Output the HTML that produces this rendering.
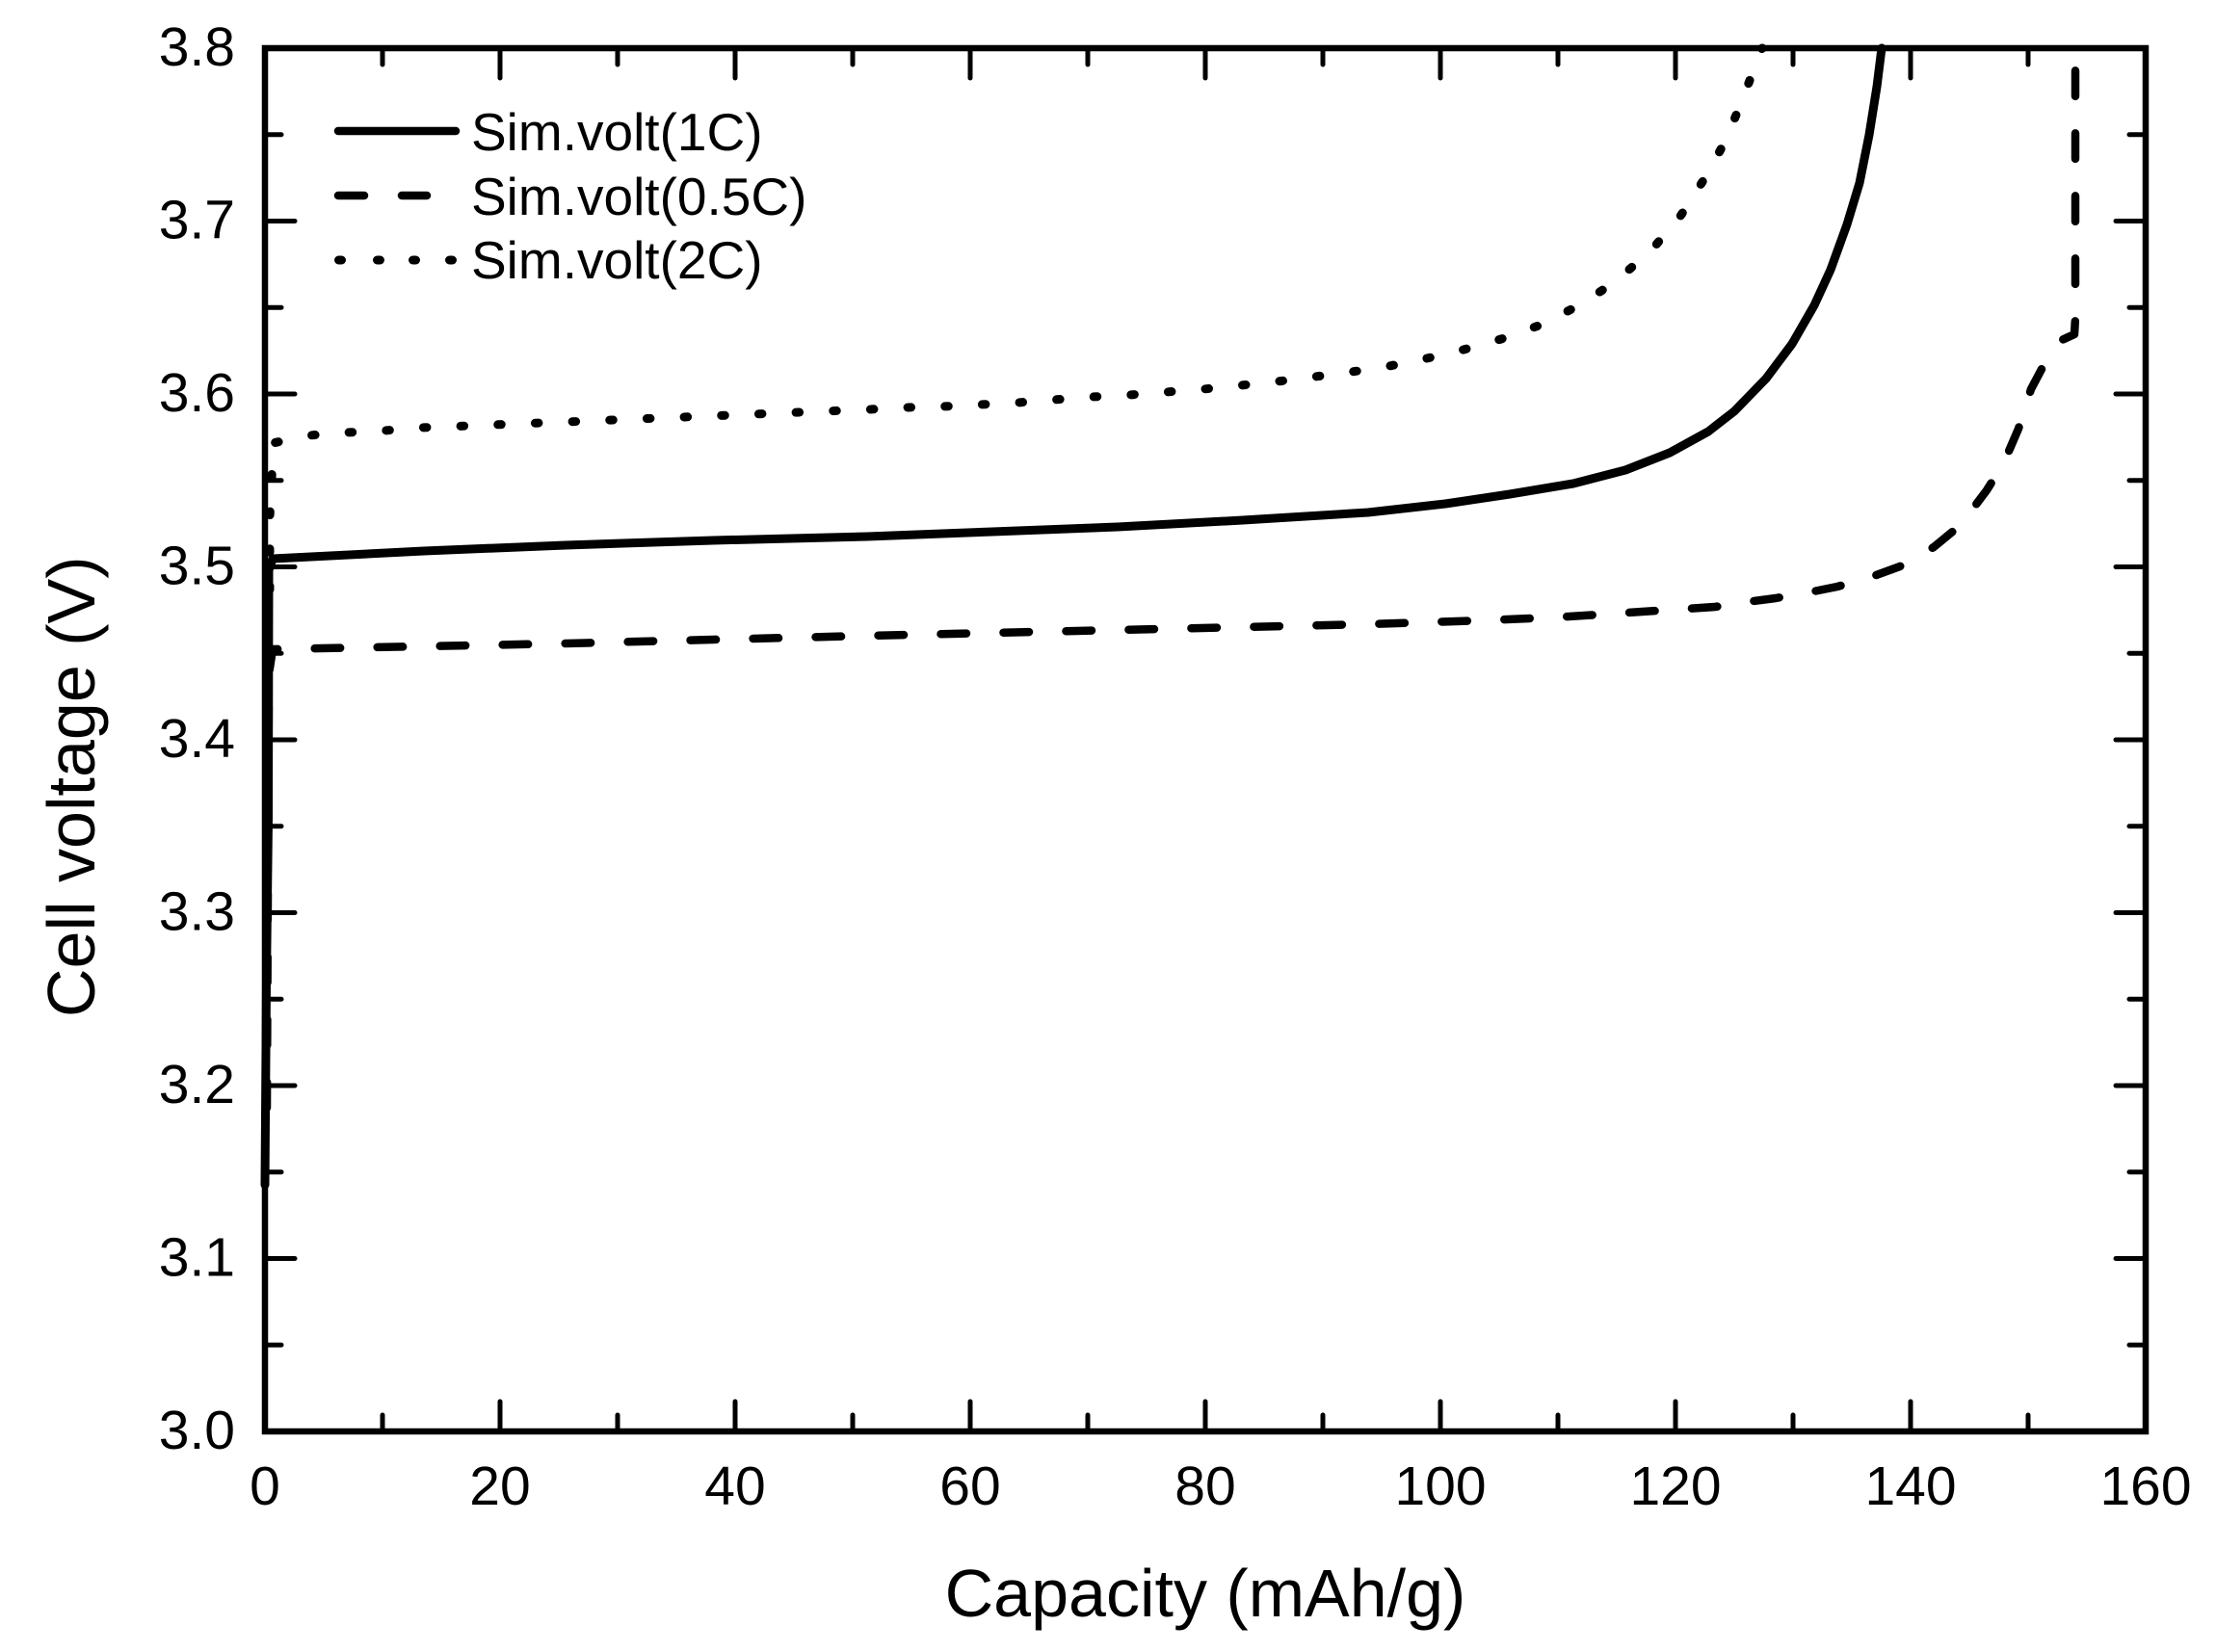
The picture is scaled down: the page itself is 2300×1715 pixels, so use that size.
<!DOCTYPE html>
<html>
<head>
<meta charset="utf-8">
<style>
html,body{margin:0;padding:0;background:#fff;}
svg{display:block;}
text{font-family:"Liberation Sans",Arial,sans-serif;fill:#000;}
</style>
</head>
<body>
<svg width="2300" height="1715" viewBox="0 0 2300 1715" xmlns="http://www.w3.org/2000/svg">
<rect x="0" y="0" width="2300" height="1715" fill="#fff"/>

<!-- curves -->
<g fill="none" stroke="#000" stroke-linejoin="round">
  <!-- 1C solid -->
  <polyline stroke-width="9" stroke-linecap="round" points="275,1230 276.5,1020 278.5,850 279,592 283,580 440,572 587,566 740,561 900,557 1030,552 1160,547 1290,540 1420,532 1500,523 1567,513 1633,502 1687,488 1733,470 1773,448 1800,427 1833,393 1860,357 1883,317 1900,280 1917,233 1930,190 1940,140 1948,90 1953,50"/>
  <!-- 0.5C dashed -->
  <polyline stroke-width="8.5" stroke-linecap="round" stroke-dasharray="26.5 38.5" points="277,1150 279,700 283,674 440,671 587,668 740,664 900,660 1030,657 1160,654 1290,651 1420,648 1540,644 1612,641 1660,638 1720,634 1780,630 1812,625 1843,621 1877,615 1907,609 1942,599 1972,588 2007,568 2035,545 2062,509 2080,480 2095,445 2108,404 2127,368 2140,353 2153,347 2154,330 2154,50"/>
  <!-- 2C dotted -->
  <polyline stroke-width="9" stroke-linecap="round" stroke-dasharray="3.5 35.2" points="280,612 280,537 282,498 283,460 321,452 360,449 399,447 436,444 587,438 733,432 903,425 940,423 979,422 1017,420 1056,418 1094,415 1133,412 1172,410 1210,407 1249,404 1288,400 1326,396 1365,391 1403,386 1442,380 1481,372 1519,363 1558,352 1597,338 1635,319 1673,295 1713,261 1745,223 1770,184 1791,146 1807,107 1822,68 1829,50"/>
</g>

<!-- axes frame -->
<rect x="275" y="50" width="1952" height="1436" fill="none" stroke="#000" stroke-width="6.5" stroke-linejoin="miter"/>

<!-- ticks -->
<g stroke="#000" stroke-width="5" stroke-linecap="round">
  <line x1="519" y1="1486" x2="519" y2="1455"/><line x1="763" y1="1486" x2="763" y2="1455"/>
  <line x1="1007" y1="1486" x2="1007" y2="1455"/><line x1="1251" y1="1486" x2="1251" y2="1455"/>
  <line x1="1495" y1="1486" x2="1495" y2="1455"/><line x1="1739" y1="1486" x2="1739" y2="1455"/>
  <line x1="1983" y1="1486" x2="1983" y2="1455"/>
  <line x1="397" y1="1486" x2="397" y2="1469"/><line x1="641" y1="1486" x2="641" y2="1469"/>
  <line x1="885" y1="1486" x2="885" y2="1469"/><line x1="1129" y1="1486" x2="1129" y2="1469"/>
  <line x1="1373" y1="1486" x2="1373" y2="1469"/><line x1="1617" y1="1486" x2="1617" y2="1469"/>
  <line x1="1861" y1="1486" x2="1861" y2="1469"/><line x1="2105" y1="1486" x2="2105" y2="1469"/>
  <line x1="519" y1="50" x2="519" y2="81"/><line x1="763" y1="50" x2="763" y2="81"/>
  <line x1="1007" y1="50" x2="1007" y2="81"/><line x1="1251" y1="50" x2="1251" y2="81"/>
  <line x1="1495" y1="50" x2="1495" y2="81"/><line x1="1739" y1="50" x2="1739" y2="81"/>
  <line x1="1983" y1="50" x2="1983" y2="81"/>
  <line x1="397" y1="50" x2="397" y2="67"/><line x1="641" y1="50" x2="641" y2="67"/>
  <line x1="885" y1="50" x2="885" y2="67"/><line x1="1129" y1="50" x2="1129" y2="67"/>
  <line x1="1373" y1="50" x2="1373" y2="67"/><line x1="1617" y1="50" x2="1617" y2="67"/>
  <line x1="1861" y1="50" x2="1861" y2="67"/><line x1="2105" y1="50" x2="2105" y2="67"/>
  <line x1="275" y1="1306.5" x2="306" y2="1306.5"/><line x1="275" y1="1127" x2="306" y2="1127"/>
  <line x1="275" y1="947.5" x2="306" y2="947.5"/><line x1="275" y1="768" x2="306" y2="768"/>
  <line x1="275" y1="588.5" x2="306" y2="588.5"/><line x1="275" y1="409" x2="306" y2="409"/>
  <line x1="275" y1="229.5" x2="306" y2="229.5"/>
  <line x1="275" y1="1396.25" x2="292" y2="1396.25"/><line x1="275" y1="1216.75" x2="292" y2="1216.75"/>
  <line x1="275" y1="1037.25" x2="292" y2="1037.25"/><line x1="275" y1="857.75" x2="292" y2="857.75"/>
  <line x1="275" y1="678.25" x2="292" y2="678.25"/><line x1="275" y1="498.75" x2="292" y2="498.75"/>
  <line x1="275" y1="319.25" x2="292" y2="319.25"/><line x1="275" y1="139.75" x2="292" y2="139.75"/>
  <line x1="2227" y1="1306.5" x2="2196" y2="1306.5"/><line x1="2227" y1="1127" x2="2196" y2="1127"/>
  <line x1="2227" y1="947.5" x2="2196" y2="947.5"/><line x1="2227" y1="768" x2="2196" y2="768"/>
  <line x1="2227" y1="588.5" x2="2196" y2="588.5"/><line x1="2227" y1="409" x2="2196" y2="409"/>
  <line x1="2227" y1="229.5" x2="2196" y2="229.5"/>
  <line x1="2227" y1="1396.25" x2="2210" y2="1396.25"/><line x1="2227" y1="1216.75" x2="2210" y2="1216.75"/>
  <line x1="2227" y1="1037.25" x2="2210" y2="1037.25"/><line x1="2227" y1="857.75" x2="2210" y2="857.75"/>
  <line x1="2227" y1="678.25" x2="2210" y2="678.25"/><line x1="2227" y1="498.75" x2="2210" y2="498.75"/>
  <line x1="2227" y1="319.25" x2="2210" y2="319.25"/><line x1="2227" y1="139.75" x2="2210" y2="139.75"/>
</g>

<!-- y tick labels -->
<g font-size="57" text-anchor="end">
  <text x="244" y="1504">3.0</text>
  <text x="244" y="1324.5">3.1</text>
  <text x="244" y="1145">3.2</text>
  <text x="244" y="965.5">3.3</text>
  <text x="244" y="786">3.4</text>
  <text x="244" y="606.5">3.5</text>
  <text x="244" y="427">3.6</text>
  <text x="244" y="247.5">3.7</text>
  <text x="244" y="68">3.8</text>
</g>

<!-- x tick labels -->
<g font-size="57" text-anchor="middle">
  <text x="275" y="1562">0</text>
  <text x="519" y="1562">20</text>
  <text x="763" y="1562">40</text>
  <text x="1007" y="1562">60</text>
  <text x="1251" y="1562">80</text>
  <text x="1495" y="1562">100</text>
  <text x="1739" y="1562">120</text>
  <text x="1983" y="1562">140</text>
  <text x="2227" y="1562">160</text>
</g>

<!-- axis titles -->
<text x="1251" y="1678" font-size="70" text-anchor="middle">Capacity (mAh/g)</text>
<text transform="translate(98,1056) rotate(-90)" x="0" y="0" font-size="70" text-anchor="start">Cell voltage (V)</text>

<!-- legend -->
<g stroke="#000" stroke-linecap="round" fill="none">
  <line x1="351" y1="136" x2="473" y2="136" stroke-width="8.5"/>
  <line x1="351" y1="203" x2="378" y2="203" stroke-width="8.5"/>
  <line x1="417" y1="203" x2="443" y2="203" stroke-width="8.5"/>
  <line x1="351.5" y1="270" x2="354.5" y2="270" stroke-width="9"/>
  <line x1="391.5" y1="270" x2="394.5" y2="270" stroke-width="9"/>
  <line x1="428.5" y1="270" x2="431.5" y2="270" stroke-width="9"/>
  <line x1="466.5" y1="270" x2="469.5" y2="270" stroke-width="9"/>
</g>
<g font-size="55">
  <text x="489" y="156">Sim.volt(1C)</text>
  <text x="489" y="223">Sim.volt(0.5C)</text>
  <text x="489" y="289">Sim.volt(2C)</text>
</g>
</svg>
</body>
</html>
